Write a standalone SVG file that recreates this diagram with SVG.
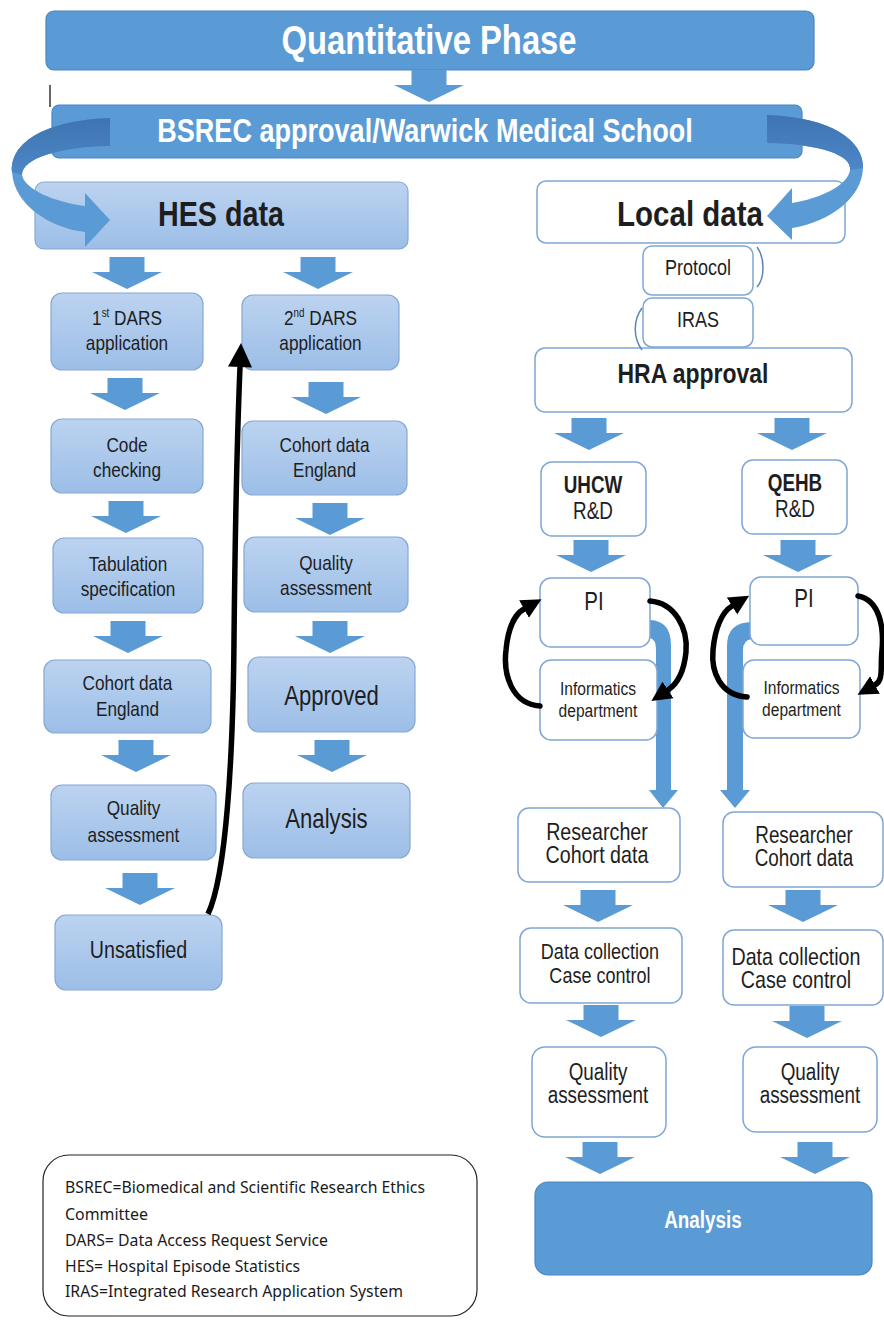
<svg xmlns="http://www.w3.org/2000/svg" xmlns:xlink="http://www.w3.org/1999/xlink" width="884" height="1320" viewBox="0 0 884 1320">
  <style>
    .t { font-family: "Liberation Sans", Arial, sans-serif; text-anchor: middle; fill: #1e1e1e; }
    .w { fill: #ffffff; font-weight: bold; }
    .b { font-weight: bold; }
    .dark { fill: #5b9bd5; stroke: #4a86c4; stroke-width: 1.2; }
    .light { fill: url(#lg); stroke: #86a8d6; stroke-width: 1.2; }
    .plain { fill: #ffffff; stroke: #7fa6d4; stroke-width: 1.5; }
    .barr { fill: #5b9bd5; }
    .cyc { fill: none; stroke: #000; stroke-width: 5.5; stroke-linecap: round; }
    .leg { font-family: "Noto Sans", "Open Sans", sans-serif; font-size: 17px; fill: #1a1a1a; }
  </style>
  <defs>
    <linearGradient id="lg" x1="0" y1="0" x2="0" y2="1">
      <stop offset="0" stop-color="#bcd3f0"/>
      <stop offset="1" stop-color="#9cbee7"/>
    </linearGradient>
    <linearGradient id="rib" x1="0" y1="0" x2="0" y2="1">
      <stop offset="0" stop-color="#3f74b2"/>
      <stop offset="1" stop-color="#4d87c6"/>
    </linearGradient>
    <path id="da" d="M-17.5 0H17.5V15H35L0 32L-35 15H-17.5Z"/>
    <marker id="hd" viewBox="0 0 10 10" refX="0" refY="5" markerUnits="userSpaceOnUse" markerWidth="20" markerHeight="22" orient="auto">
      <path d="M0 0L10 5L0 10Z" fill="#000"/>
    </marker>
    <marker id="hdBig" viewBox="0 0 10 10" refX="0" refY="5" markerUnits="userSpaceOnUse" markerWidth="27" markerHeight="24" orient="auto">
      <path d="M0 0L10 5L0 10Z" fill="#000"/>
    </marker>
  </defs>

  <!-- top banners -->
  <g id="quantitative">
    <rect class="dark" x="46" y="11" width="768" height="59" rx="8"/>
    <text class="t w" x="429" y="54" font-size="40" transform="matrix(.82 0 0 1 77.22 0)">Quantitative Phase</text>
  </g>
  <line x1="50" y1="85" x2="50" y2="107" stroke="#000" stroke-width="1.2"/>
  <g id="bsrec">
    <rect class="dark" x="52" y="105" width="750" height="53" rx="7"/>
    <text class="t w" x="425" y="142" font-size="33" transform="matrix(.82 0 0 1 76.5 0)">BSREC approval/Warwick Medical School</text>
  </g>

  <!-- HES branch -->
  <g id="hes">
    <rect class="light" x="35" y="182" width="373" height="67" rx="9"/>
    <text class="t b" x="221" y="226" font-size="35" transform="matrix(.82 0 0 1 39.78 0)">HES data</text>
  </g>
  <g id="dars1">
    <rect class="light" x="51" y="293" width="152" height="77" rx="11"/>
    <text class="t" x="127" y="325" font-size="21" transform="matrix(.82 0 0 1 22.86 0)">1<tspan font-size="12" dy="-8">st</tspan><tspan dy="8"> DARS</tspan></text>
    <text class="t" x="127" y="350" font-size="21" transform="matrix(.82 0 0 1 22.86 0)">application</text>
  </g>
  <g id="code">
    <rect class="light" x="51" y="419" width="152" height="74" rx="11"/>
    <text class="t" x="127" y="452" font-size="21" transform="matrix(.82 0 0 1 22.86 0)">Code</text>
    <text class="t" x="127" y="477" font-size="21" transform="matrix(.82 0 0 1 22.86 0)">checking</text>
  </g>
  <g id="tabulation">
    <rect class="light" x="53" y="538" width="150" height="75" rx="11"/>
    <text class="t" x="128" y="571" font-size="21" transform="matrix(.82 0 0 1 23.04 0)">Tabulation</text>
    <text class="t" x="128" y="596" font-size="21" transform="matrix(.82 0 0 1 23.04 0)">specification</text>
  </g>
  <g id="cohort1">
    <rect class="light" x="44" y="660" width="167" height="73" rx="11"/>
    <text class="t" x="127.5" y="690" font-size="21" transform="matrix(.82 0 0 1 22.95 0)">Cohort data</text>
    <text class="t" x="127.5" y="716" font-size="21" transform="matrix(.82 0 0 1 22.95 0)">England</text>
  </g>
  <g id="quality1">
    <rect class="light" x="51" y="785" width="165" height="75" rx="11"/>
    <text class="t" x="133.5" y="815" font-size="21" transform="matrix(.82 0 0 1 24.03 0)">Quality</text>
    <text class="t" x="133.5" y="842" font-size="21" transform="matrix(.82 0 0 1 24.03 0)">assessment</text>
  </g>
  <g id="unsatisfied">
    <rect class="light" x="55" y="915" width="167" height="75" rx="11"/>
    <text class="t" x="138.5" y="958" font-size="24" transform="matrix(.82 0 0 1 24.93 0)">Unsatisfied</text>
  </g>
  <g id="dars2">
    <rect class="light" x="242" y="295" width="157" height="75" rx="11"/>
    <text class="t" x="320.5" y="325" font-size="21" transform="matrix(.82 0 0 1 57.69 0)">2<tspan font-size="12" dy="-8">nd</tspan><tspan dy="8"> DARS</tspan></text>
    <text class="t" x="320.5" y="350" font-size="21" transform="matrix(.82 0 0 1 57.69 0)">application</text>
  </g>
  <g id="cohort2">
    <rect class="light" x="242" y="421" width="165" height="74" rx="11"/>
    <text class="t" x="324.5" y="452" font-size="21" transform="matrix(.82 0 0 1 58.41 0)">Cohort data</text>
    <text class="t" x="324.5" y="477" font-size="21" transform="matrix(.82 0 0 1 58.41 0)">England</text>
  </g>
  <g id="quality2">
    <rect class="light" x="244" y="537" width="164" height="75" rx="11"/>
    <text class="t" x="326" y="570" font-size="21" transform="matrix(.82 0 0 1 58.68 0)">Quality</text>
    <text class="t" x="326" y="595" font-size="21" transform="matrix(.82 0 0 1 58.68 0)">assessment</text>
  </g>
  <g id="approved">
    <rect class="light" x="248" y="657" width="167" height="75" rx="11"/>
    <text class="t" x="331.5" y="705" font-size="27" transform="matrix(.82 0 0 1 59.67 0)">Approved</text>
  </g>
  <g id="analysis-hes">
    <rect class="light" x="243" y="783" width="167" height="75" rx="11"/>
    <text class="t" x="326.5" y="828" font-size="27" transform="matrix(.82 0 0 1 58.77 0)">Analysis</text>
  </g>

  <!-- local branch -->
  <g id="local">
    <rect class="plain" x="537" y="181" width="308" height="62" rx="9"/>
    <text class="t b" x="690" y="226" font-size="36" transform="matrix(.82 0 0 1 124.2 0)">Local data</text>
  </g>
  <g id="protocol">
    <rect class="plain" x="643" y="246" width="110" height="49" rx="9"/>
    <text class="t" x="698" y="275" font-size="22" transform="matrix(.82 0 0 1 125.64 0)">Protocol</text>
  </g>
  <g id="iras">
    <rect class="plain" x="643" y="298" width="110" height="49" rx="9"/>
    <text class="t" x="698" y="327" font-size="22" transform="matrix(.82 0 0 1 125.64 0)">IRAS</text>
  </g>
  <g id="hra">
    <rect class="plain" x="535" y="348" width="317" height="64" rx="10"/>
    <text class="t b" x="693" y="383" font-size="28" transform="matrix(.82 0 0 1 124.74 0)">HRA approval</text>
  </g>
  <g id="uhcw">
    <rect class="plain" x="541" y="462" width="105" height="74" rx="11"/>
    <text class="t b" x="593" y="493" font-size="23" transform="matrix(.82 0 0 1 106.74 0)">UHCW</text>
    <text class="t" x="593" y="519" font-size="23" transform="matrix(.82 0 0 1 106.74 0)">R&amp;D</text>
  </g>
  <g id="qehb">
    <rect class="plain" x="742" y="460" width="105" height="74" rx="11"/>
    <text class="t b" x="795" y="491" font-size="23" transform="matrix(.82 0 0 1 143.1 0)">QEHB</text>
    <text class="t" x="795" y="517" font-size="23" transform="matrix(.82 0 0 1 143.1 0)">R&amp;D</text>
  </g>

  <!-- blue transfer bands from PI to researcher -->
  <g id="bands">
    <path class="barr" d="M650 620Q671 621 671 645V790H678L663 808L649 790H656V650Q656 639 650 638Z"/>
    <path class="barr" d="M752 622Q727 622 727 646V790H720L735 808L750 790H743V650Q743 640 752 639Z"/>
  </g>

  <g id="pi-uhcw">
    <rect class="plain" x="540" y="578" width="110" height="69" rx="11"/>
    <text class="t" x="594" y="610" font-size="25" transform="matrix(.82 0 0 1 106.92 0)">PI</text>
  </g>
  <g id="pi-qehb">
    <rect class="plain" x="750" y="577" width="108" height="68" rx="11"/>
    <text class="t" x="804" y="607" font-size="25" transform="matrix(.82 0 0 1 144.72 0)">PI</text>
  </g>
  <g id="informatics-uhcw">
    <rect class="plain" x="540" y="660" width="117" height="80" rx="11"/>
    <text class="t" x="598" y="695" font-size="19" transform="matrix(.82 0 0 1 107.64 0)">Informatics</text>
    <text class="t" x="598" y="717" font-size="19" transform="matrix(.82 0 0 1 107.64 0)">department</text>
  </g>
  <g id="informatics-qehb">
    <rect class="plain" x="743" y="660" width="117" height="78" rx="11"/>
    <text class="t" x="801.5" y="694" font-size="19" transform="matrix(.82 0 0 1 144.27 0)">Informatics</text>
    <text class="t" x="801.5" y="716" font-size="19" transform="matrix(.82 0 0 1 144.27 0)">department</text>
  </g>
  <g id="researcher-uhcw">
    <rect class="plain" x="518" y="808" width="162" height="74" rx="11"/>
    <text class="t" x="597" y="840" font-size="24" transform="matrix(.82 0 0 1 107.46 0)">Researcher</text>
    <text class="t" x="597" y="863" font-size="24" transform="matrix(.82 0 0 1 107.46 0)">Cohort data</text>
  </g>
  <g id="researcher-qehb">
    <rect class="plain" x="723" y="812" width="160" height="75" rx="11"/>
    <text class="t" x="804" y="843" font-size="23" transform="matrix(.82 0 0 1 144.72 0)">Researcher</text>
    <text class="t" x="804" y="866" font-size="23" transform="matrix(.82 0 0 1 144.72 0)">Cohort data</text>
  </g>
  <g id="collection-uhcw">
    <rect class="plain" x="520" y="928" width="162" height="75" rx="11"/>
    <text class="t" x="600" y="959" font-size="22" transform="matrix(.82 0 0 1 108 0)">Data collection</text>
    <text class="t" x="600" y="983" font-size="22" transform="matrix(.82 0 0 1 108 0)">Case control</text>
  </g>
  <g id="collection-qehb">
    <rect class="plain" x="723" y="930" width="160" height="75" rx="11"/>
    <text class="t" x="796" y="965" font-size="24" transform="matrix(.82 0 0 1 143.28 0)">Data collection</text>
    <text class="t" x="796" y="988" font-size="24" transform="matrix(.82 0 0 1 143.28 0)">Case control</text>
  </g>
  <g id="quality-uhcw">
    <rect class="plain" x="532" y="1047" width="134" height="90" rx="13"/>
    <text class="t" x="598" y="1080" font-size="23" transform="matrix(.82 0 0 1 107.64 0)">Quality</text>
    <text class="t" x="598" y="1103" font-size="23" transform="matrix(.82 0 0 1 107.64 0)">assessment</text>
  </g>
  <g id="quality-qehb">
    <rect class="plain" x="743" y="1047" width="134" height="85" rx="13"/>
    <text class="t" x="810" y="1080" font-size="23" transform="matrix(.82 0 0 1 145.8 0)">Quality</text>
    <text class="t" x="810" y="1103" font-size="23" transform="matrix(.82 0 0 1 145.8 0)">assessment</text>
  </g>
  <g id="analysis-local">
    <rect class="dark" x="535" y="1182" width="337" height="93" rx="13"/>
    <text class="t w" x="703" y="1228" font-size="23" transform="matrix(.82 0 0 1 126.54 0)">Analysis</text>
  </g>

  <!-- connectors -->
  <g id="connectors">
    <!-- block arrows -->
    <g class="barr">
      <use xlink:href="#da" x="429" y="70"/>
      <use xlink:href="#da" x="127" y="257"/>
      <use xlink:href="#da" x="125" y="378"/>
      <use xlink:href="#da" x="126" y="501"/>
      <use xlink:href="#da" x="128" y="621"/>
      <use xlink:href="#da" x="136" y="740"/>
      <use xlink:href="#da" x="140" y="873"/>
      <use xlink:href="#da" x="318" y="257"/>
      <use xlink:href="#da" x="326" y="382"/>
      <use xlink:href="#da" x="330" y="503"/>
      <use xlink:href="#da" x="330" y="621"/>
      <use xlink:href="#da" x="332" y="740"/>
      <use xlink:href="#da" x="589" y="418"/>
      <use xlink:href="#da" x="792" y="418"/>
      <use xlink:href="#da" x="591" y="540"/>
      <use xlink:href="#da" x="798" y="540"/>
      <use xlink:href="#da" x="598" y="890"/>
      <use xlink:href="#da" x="803" y="890"/>
      <use xlink:href="#da" x="601" y="1005"/>
      <use xlink:href="#da" x="807" y="1006"/>
      <use xlink:href="#da" x="600" y="1142"/>
      <use xlink:href="#da" x="815" y="1142"/>
    </g>

    <!-- curved ribbons from the approval banner -->
    <path fill="#5b9bd5" d="M110 118C50 120 10 140 12 172C14 205 50 228 85 232V247L110 220L85 193V206C55 202 25 190 22 175C22 158 60 147 110 146Z"/>
    <path fill="url(#rib)" d="M110 118C50 120 10 140 12 172L22 175C22 158 60 147 110 146Z"/>
    <path fill="#5b9bd5" d="M767 115C830 117 864 140 863 168C862 198 830 222 792 228V240L767 216L792 188V203C822 198 848 185 850 170C852 155 820 144 767 143Z"/>
    <path fill="url(#rib)" d="M767 115C830 117 864 140 863 168L850 170C852 155 820 144 767 143Z"/>

    <!-- protocol / IRAS links -->
    <path d="M757 247C765 258 765 278 757 287" fill="none" stroke="#5a86b8" stroke-width="1.5"/>
    <path d="M642 308C633 320 633 338 642 350" fill="none" stroke="#5a86b8" stroke-width="1.5"/>

    <!-- resubmission loop -->
    <path d="M208 914C226 876 233 760 234 640C235 540 237 440 240 367" fill="none" stroke="#000" stroke-width="5.5" marker-end="url(#hdBig)"/>

    <!-- PI / informatics cycles -->
    <path class="cyc" d="M540 706C512 704 503 675 506 650C508 628 515 614 524 609" marker-end="url(#hd)"/>
    <path class="cyc" d="M650 601C675 603 688 628 686 652C684 672 677 684 668 690" marker-end="url(#hd)"/>
    <path class="cyc" d="M747 697C720 695 711 672 713 650C715 628 722 612 732 606" marker-end="url(#hd)"/>
    <path class="cyc" d="M858 596C880 600 884 628 882 650C880 668 884 680 875 685" marker-end="url(#hd)"/>
  </g>

  <!-- abbreviations -->
  <g id="legend">
    <rect x="43" y="1155" width="434" height="161" rx="26" fill="#ffffff" stroke="#222" stroke-width="1.2"/>
    <text class="leg" x="65" y="1193" textLength="360" lengthAdjust="spacingAndGlyphs">BSREC=Biomedical and Scientific Research Ethics</text>
    <text class="leg" x="65" y="1220" textLength="83" lengthAdjust="spacingAndGlyphs">Committee</text>
    <text class="leg" x="65" y="1246" textLength="263" lengthAdjust="spacingAndGlyphs">DARS= Data Access Request Service</text>
    <text class="leg" x="65" y="1272" textLength="235" lengthAdjust="spacingAndGlyphs">HES= Hospital Episode Statistics</text>
    <text class="leg" x="65" y="1297" textLength="338" lengthAdjust="spacingAndGlyphs">IRAS=Integrated Research Application System</text>
  </g>
</svg>
